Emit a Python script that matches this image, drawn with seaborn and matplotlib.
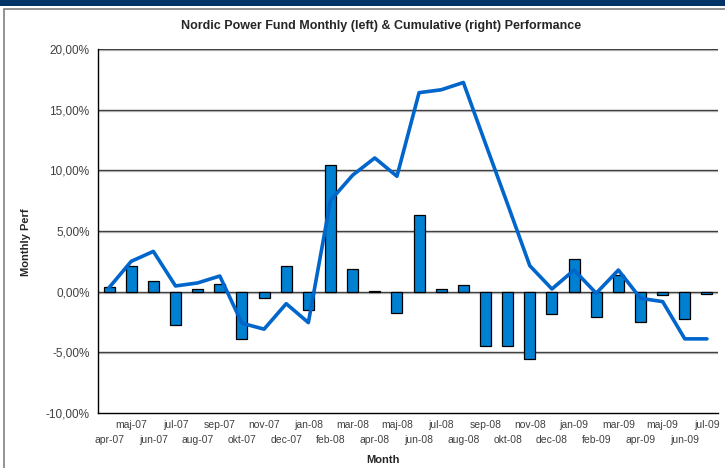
import matplotlib
matplotlib.use("Agg")
import matplotlib.pyplot as plt
from matplotlib.patches import Rectangle
from matplotlib.ticker import FuncFormatter, FixedLocator
import numpy as np
import pandas as pd
import seaborn as sns

months = ["apr-07", "maj-07", "jun-07", "jul-07", "aug-07", "sep-07", "okt-07",
          "nov-07", "dec-07", "jan-08", "feb-08", "mar-08", "apr-08", "maj-08",
          "jun-08", "jul-08", "aug-08", "sep-08", "okt-08", "nov-08", "dec-08",
          "jan-09", "feb-09", "mar-09", "apr-09", "maj-09", "jun-09", "jul-09"]

# monthly performance (%)
monthly = [0.39, 2.09, 0.88, -2.76, 0.22, 0.61, -3.93, -0.49, 2.09, -1.51,
           10.40, 1.89, 0.05, -1.73, 6.28, 0.20, 0.55, -4.47, -4.47, -5.54,
           -1.86, 2.69, -2.05, 1.37, -2.47, -0.30, -2.22, -0.21]

# cumulative performance (%)
cumulative = [0.33, 2.50, 3.32, 0.47, 0.72, 1.29, -2.60, -3.09, -0.99, -2.55,
              7.52, 9.60, 11.02, 9.51, 16.40, 16.64, 17.24, 12.20, 7.20, 2.14,
              0.22, 1.78, -0.13, 1.78, -0.55, -0.82, -3.89, -3.89]

yticks = [-10, -5, 0, 5, 10, 15, 20]

df = pd.DataFrame({"Month": months, "Monthly": monthly, "Cumulative": cumulative})

sns.set_style("white")
plt.rcParams["font.family"] = ["Liberation Sans", "DejaVu Sans"]

fig = plt.figure(figsize=(7.25, 4.68), dpi=100)
ax = fig.add_axes([98 / 725, 1 - 413 / 468, 620 / 725, 364 / 468])

# header band and frame
fig.patches.append(Rectangle((0, 1 - 6 / 468), 1, 6 / 468, transform=fig.transFigure,
                             facecolor="#003366", edgecolor="none", zorder=0))
fig.patches.append(Rectangle((4 / 725, -0.02), 1.05, 1 - 9 / 468 + 0.02, transform=fig.transFigure,
                             facecolor="none", edgecolor="#808080", lw=1.2, zorder=0))

# gridlines with a light shadow
for y in yticks[1:]:
    ax.axhline(y - 0.09, color="#c8c8c8", lw=1.0, zorder=0.5)
    ax.axhline(y, color="#404040", lw=1.0, zorder=0.6)

sns.barplot(data=df, x="Month", y="Monthly", color="#0080d0", saturation=1,
            width=0.5, edgecolor="black", linewidth=0.9, ax=ax, zorder=2)
sns.lineplot(data=df, x="Month", y="Cumulative", sort=False, color="#0066cc",
             lw=2.6, ax=ax, zorder=3)

ax.set_xlim(-0.5, len(months) - 0.5)
ax.set_ylim(-10, 20)
ax.set_yticks(yticks)
ax.yaxis.set_major_formatter(FuncFormatter(lambda v, p: f"{v:.2f}%".replace(".", ",")))

ax.set_xticks(range(len(months)))
ax.set_xticklabels(months, fontsize=7.5, color="#404040")
ax.xaxis.set_minor_locator(FixedLocator(np.arange(-0.5, len(months), 1)))
ax.tick_params(axis="x", which="major", length=0, pad=5)
ax.tick_params(axis="x", which="minor", length=4, width=1, color="black", direction="out")
# two staggered rows of month labels
for i, tick in enumerate(ax.xaxis.get_major_ticks()):
    if i % 2 == 0:
        tick.set_pad(16)
ax.tick_params(axis="y", length=4, width=1, color="black", direction="out",
               labelsize=8.5, labelcolor="#404040", pad=2)

for s in ["top", "right"]:
    ax.spines[s].set_visible(False)
for s in ["left", "bottom"]:
    ax.spines[s].set_color("black")
    ax.spines[s].set_linewidth(1.0)

ax.set_xlabel("Month", fontsize=8, fontweight="bold", va="center")
ax.xaxis.set_label_coords((383 - 98) / 620, (413 - 460) / 364)
ax.set_ylabel("Monthly Perf", fontsize=8, fontweight="bold")
ax.yaxis.set_label_coords((31 - 98) / 620, (413 - 242) / 364)
fig.text(381 / 725, 1 - 26 / 468, "Nordic Power Fund Monthly (left) & Cumulative (right) Performance",
         ha="center", va="center", fontsize=9, fontweight="bold")

fig.savefig("out.png", dpi=100)
